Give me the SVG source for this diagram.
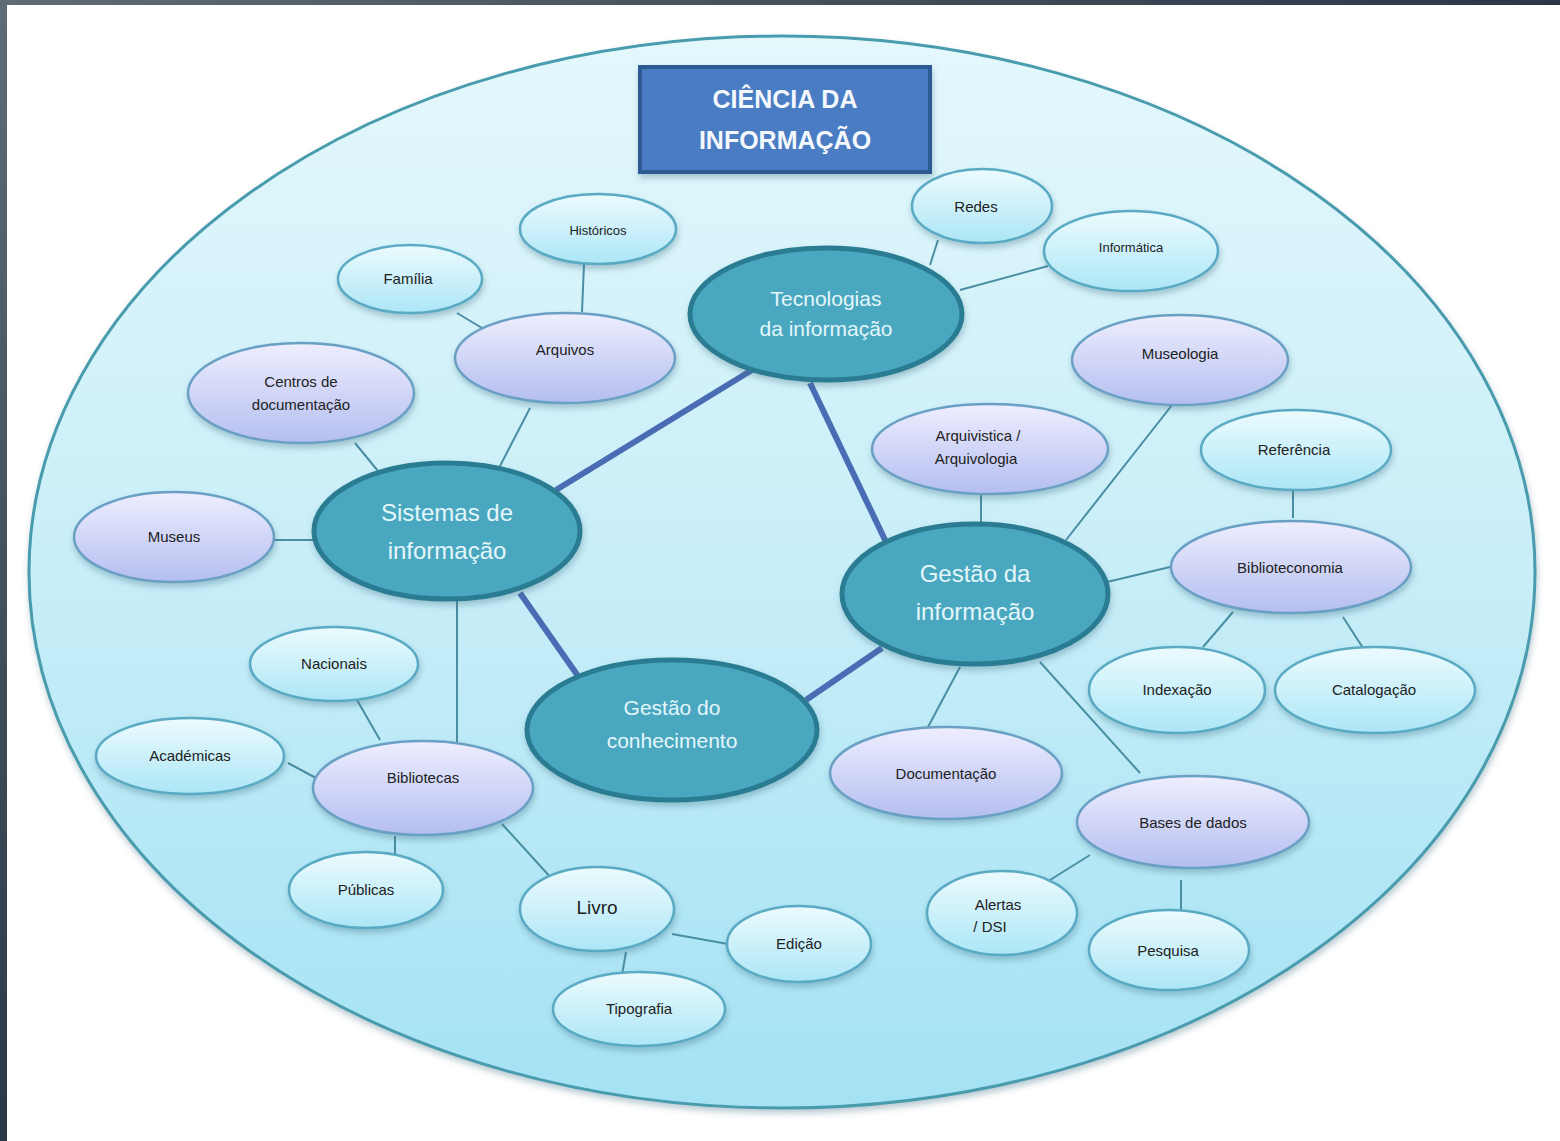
<svg xmlns="http://www.w3.org/2000/svg" width="1560" height="1141" viewBox="0 0 1560 1141">
<defs>
<linearGradient id="frameTop" x1="0" y1="0" x2="1" y2="0"><stop offset="0" stop-color="#5f6b75"/><stop offset="1" stop-color="#2a3846"/></linearGradient>
<linearGradient id="frameLeft" x1="0" y1="0" x2="0" y2="1"><stop offset="0" stop-color="#5f6b75"/><stop offset="1" stop-color="#2a3846"/></linearGradient>
<linearGradient id="bigFill" x1="0" y1="0" x2="0" y2="1"><stop offset="0" stop-color="#e4f8fc"/><stop offset="0.5" stop-color="#c8eef8"/><stop offset="1" stop-color="#a4e2f4"/></linearGradient>
<linearGradient id="lav" x1="0" y1="0" x2="0" y2="1"><stop offset="0" stop-color="#eeeefe"/><stop offset="1" stop-color="#b4bef0"/></linearGradient>
<linearGradient id="cyan" x1="0" y1="0" x2="0" y2="1"><stop offset="0" stop-color="#ecfbfe"/><stop offset="1" stop-color="#ace6f6"/></linearGradient>
<filter id="sh" x="-20%" y="-20%" width="140%" height="150%"><feDropShadow dx="1" dy="4" stdDeviation="3" flood-color="#3a6a80" flood-opacity="0.35"/></filter>
</defs>
<style>
.thin{stroke:#4a8ea4;stroke-width:2;fill:none}
.thick{stroke:#4a6cb4;stroke-width:6;fill:none}
.maj ellipse{fill:#4aa8c0;stroke:#2c7c92;stroke-width:5}
.lav ellipse{fill:url(#lav);stroke:#6aa0c4;stroke-width:2.5}
.cy ellipse{fill:url(#cyan);stroke:#5aaac4;stroke-width:2.5}
.maj text{font-family:"Liberation Sans",Arial,sans-serif;fill:#e4f6fa;text-anchor:middle}
.lav text,.cy text{font-family:"Liberation Sans",Arial,sans-serif;fill:#222;font-size:15px;text-anchor:middle}
.title text{font-family:"Liberation Sans",Arial,sans-serif;font-weight:bold;fill:#f4f8fc;font-size:25px;text-anchor:middle}
</style>
<rect width="1560" height="1141" fill="#ffffff"/>
<rect x="0" y="0" width="1560" height="5" fill="url(#frameTop)"/>
<rect x="0" y="0" width="7" height="1141" fill="url(#frameLeft)"/>
<ellipse cx="782" cy="572" rx="753" ry="536" fill="url(#bigFill)" stroke="#4a9cae" stroke-width="3" filter="url(#sh)"/>

<g id="connectors">
<line class="thick" x1="556" y1="490" x2="752" y2="370"/>
<line class="thick" x1="810" y1="383" x2="886" y2="542"/>
<line class="thick" x1="520" y1="593" x2="578" y2="676"/>
<line class="thick" x1="806" y1="700" x2="882" y2="648"/>
<line class="thin" x1="457" y1="313" x2="482" y2="328"/>
<line class="thin" x1="584" y1="264" x2="582" y2="312"/>
<line class="thin" x1="530" y1="408" x2="500" y2="466"/>
<line class="thin" x1="355" y1="443" x2="378" y2="471"/>
<line class="thin" x1="274" y1="540" x2="315" y2="540"/>
<line class="thin" x1="457" y1="600" x2="457" y2="742"/>
<line class="thin" x1="357" y1="700" x2="380" y2="740"/>
<line class="thin" x1="288" y1="763" x2="316" y2="778"/>
<line class="thin" x1="395" y1="836" x2="395" y2="855"/>
<line class="thin" x1="502" y1="824" x2="553" y2="880"/>
<line class="thin" x1="672" y1="934" x2="728" y2="944"/>
<line class="thin" x1="626" y1="952" x2="622" y2="975"/>
<line class="thin" x1="938" y1="240" x2="930" y2="265"/>
<line class="thin" x1="1048" y1="266" x2="960" y2="290"/>
<line class="thin" x1="1176" y1="400" x2="1066" y2="540"/>
<line class="thin" x1="981" y1="493" x2="981" y2="522"/>
<line class="thin" x1="1293" y1="490" x2="1293" y2="518"/>
<line class="thin" x1="1107" y1="582" x2="1170" y2="567"/>
<line class="thin" x1="1233" y1="612" x2="1203" y2="647"/>
<line class="thin" x1="1343" y1="617" x2="1363" y2="648"/>
<line class="thin" x1="960" y1="667" x2="928" y2="727"/>
<line class="thin" x1="1040" y1="662" x2="1140" y2="773"/>
<line class="thin" x1="1090" y1="855" x2="1050" y2="880"/>
<line class="thin" x1="1181" y1="880" x2="1181" y2="910"/>
</g>

<g id="title" class="title">
<rect x="640" y="67" width="290" height="105" fill="#4a7cc2" stroke="#2e5a94" stroke-width="4" filter="url(#sh)"/>
<text x="785" y="108">CIÊNCIA DA</text>
<text x="785" y="149">INFORMAÇÃO</text>
</g>

<g id="tecnologias" class="maj"><ellipse cx="826" cy="314" rx="136" ry="66" filter="url(#sh)"/><text x="826" y="306" font-size="21">Tecnologias</text><text x="826" y="336" font-size="21">da informação</text></g>
<g id="sistemas" class="maj"><ellipse cx="447" cy="531" rx="133" ry="68" filter="url(#sh)"/><text x="447" y="521" font-size="24">Sistemas de</text><text x="447" y="559" font-size="24">informação</text></g>
<g id="gestao-info" class="maj"><ellipse cx="975" cy="594" rx="133" ry="70" filter="url(#sh)"/><text x="975" y="582" font-size="24">Gestão da</text><text x="975" y="620" font-size="24">informação</text></g>
<g id="gestao-conhecimento" class="maj"><ellipse cx="672" cy="730" rx="145" ry="70" filter="url(#sh)"/><text x="672" y="715" font-size="21">Gestão do</text><text x="672" y="748" font-size="21">conhecimento</text></g>

<g id="arquivos" class="lav"><ellipse cx="565" cy="358" rx="110" ry="45" filter="url(#sh)"/><text x="565" y="355">Arquivos</text></g>
<g id="centros" class="lav"><ellipse cx="301" cy="393" rx="113" ry="50" filter="url(#sh)"/><text x="301" y="387">Centros de</text><text x="301" y="410">documentação</text></g>
<g id="museus" class="lav"><ellipse cx="174" cy="537" rx="100" ry="45" filter="url(#sh)"/><text x="174" y="542">Museus</text></g>
<g id="bibliotecas" class="lav"><ellipse cx="423" cy="788" rx="110" ry="47" filter="url(#sh)"/><text x="423" y="783">Bibliotecas</text></g>
<g id="museologia" class="lav"><ellipse cx="1180" cy="360" rx="108" ry="45" filter="url(#sh)"/><text x="1180" y="359">Museologia</text></g>
<g id="arquivistica" class="lav"><ellipse cx="990" cy="449" rx="118" ry="45" filter="url(#sh)"/><text x="978" y="441">Arquivistica /</text><text x="976" y="464">Arquivologia</text></g>
<g id="biblioteconomia" class="lav"><ellipse cx="1291" cy="567" rx="120" ry="46" filter="url(#sh)"/><text x="1290" y="573">Biblioteconomia</text></g>
<g id="documentacao" class="lav"><ellipse cx="946" cy="773" rx="116" ry="46" filter="url(#sh)"/><text x="946" y="779">Documentação</text></g>
<g id="bases" class="lav"><ellipse cx="1193" cy="822" rx="116" ry="46" filter="url(#sh)"/><text x="1193" y="828">Bases de dados</text></g>

<g id="historicos" class="cy"><ellipse cx="598" cy="229" rx="78" ry="35" filter="url(#sh)"/><text x="598" y="235" style="font-size:13px">Históricos</text></g>
<g id="familia" class="cy"><ellipse cx="410" cy="279" rx="72" ry="34" filter="url(#sh)"/><text x="408" y="284">Família</text></g>
<g id="redes" class="cy"><ellipse cx="982" cy="206" rx="70" ry="37" filter="url(#sh)"/><text x="976" y="212">Redes</text></g>
<g id="informatica" class="cy"><ellipse cx="1131" cy="251" rx="87" ry="40" filter="url(#sh)"/><text x="1131" y="252" style="font-size:13px">Informática</text></g>
<g id="referencia" class="cy"><ellipse cx="1296" cy="450" rx="95" ry="40" filter="url(#sh)"/><text x="1294" y="455">Referência</text></g>
<g id="indexacao" class="cy"><ellipse cx="1177" cy="690" rx="88" ry="43" filter="url(#sh)"/><text x="1177" y="695">Indexação</text></g>
<g id="catalogacao" class="cy"><ellipse cx="1375" cy="690" rx="100" ry="43" filter="url(#sh)"/><text x="1374" y="695">Catalogação</text></g>
<g id="nacionais" class="cy"><ellipse cx="334" cy="664" rx="84" ry="37" filter="url(#sh)"/><text x="334" y="669">Nacionais</text></g>
<g id="academicas" class="cy"><ellipse cx="190" cy="756" rx="94" ry="38" filter="url(#sh)"/><text x="190" y="761">Académicas</text></g>
<g id="publicas" class="cy"><ellipse cx="366" cy="890" rx="77" ry="38" filter="url(#sh)"/><text x="366" y="895">Públicas</text></g>
<g id="livro" class="cy"><ellipse cx="597" cy="909" rx="77" ry="42" filter="url(#sh)"/><text x="597" y="914" style="font-size:19px">Livro</text></g>
<g id="edicao" class="cy"><ellipse cx="799" cy="944" rx="72" ry="38" filter="url(#sh)"/><text x="799" y="949">Edição</text></g>
<g id="tipografia" class="cy"><ellipse cx="639" cy="1009" rx="86" ry="37" filter="url(#sh)"/><text x="639" y="1014">Tipografia</text></g>
<g id="alertas" class="cy"><ellipse cx="1002" cy="913" rx="75" ry="42" filter="url(#sh)"/><text x="998" y="910">Alertas</text><text x="990" y="932">/ DSI</text></g>
<g id="pesquisa" class="cy"><ellipse cx="1169" cy="950" rx="80" ry="40" filter="url(#sh)"/><text x="1168" y="956">Pesquisa</text></g>
</svg>
